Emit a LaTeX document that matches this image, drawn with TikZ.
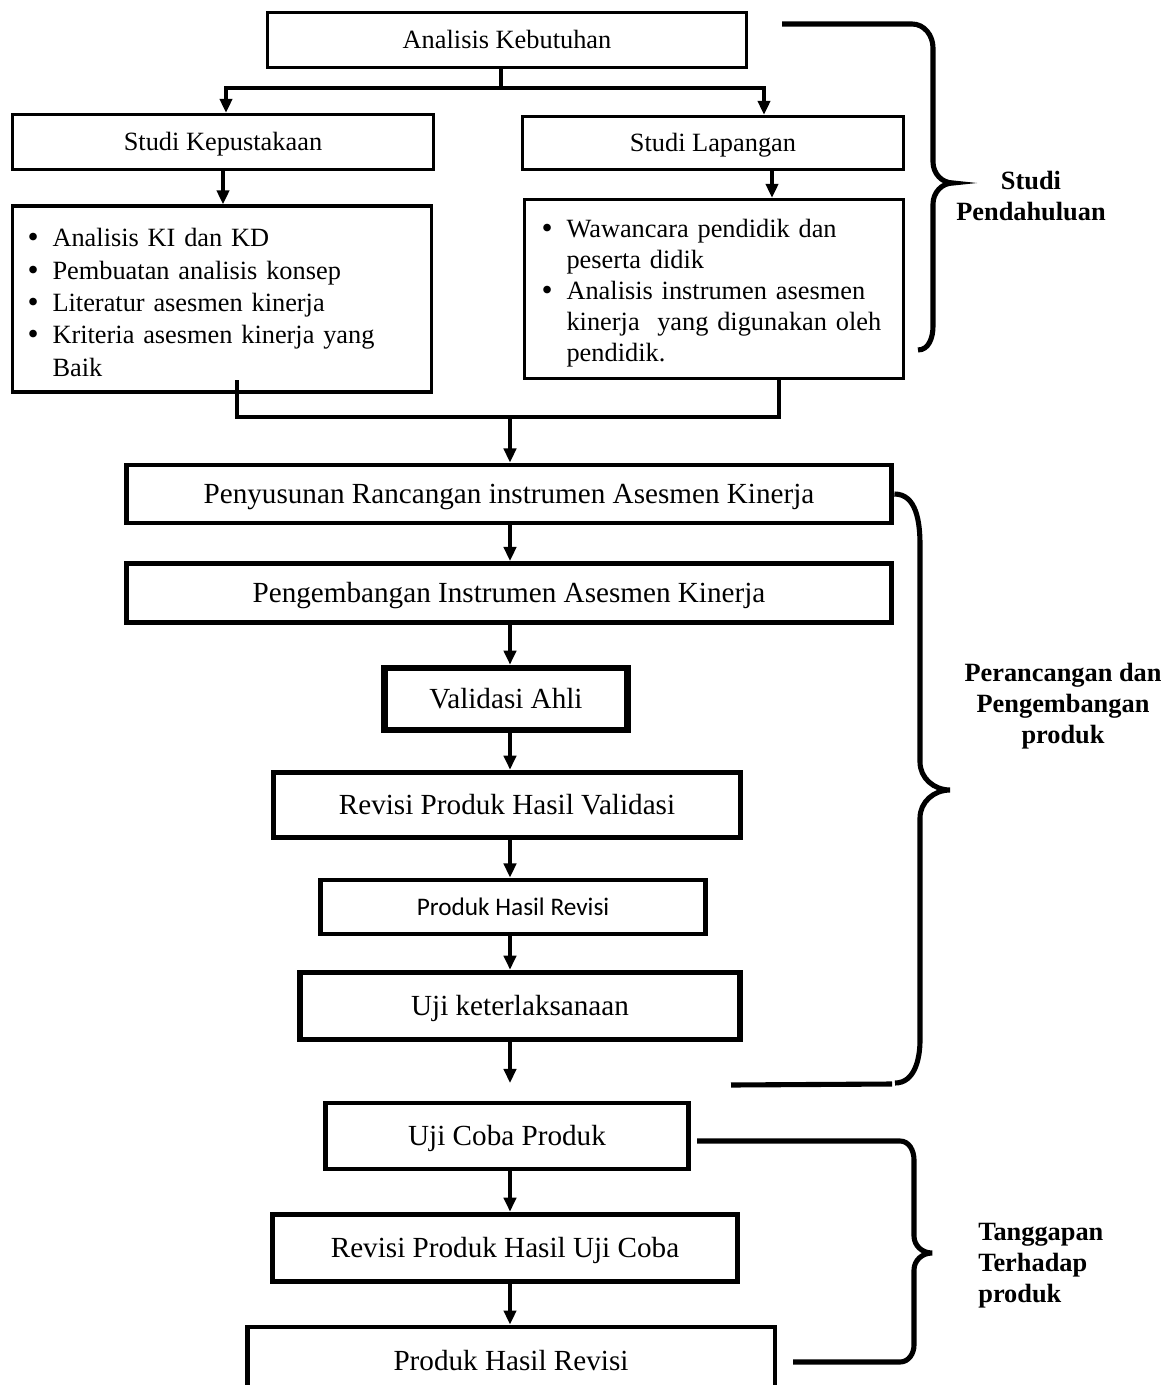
\documentclass[tikz,border=0pt]{standalone}
\usepackage{fontspec}
\setmainfont{Liberation Serif}
\newfontfamily\calibrifont{Carlito}
\usepackage{tikz}
\usetikzlibrary{arrows.meta}

\newcommand{\itemdot}{\makebox[0.5cm][l]{\raisebox{-0.6pt}{\fontsize{18}{18}\selectfont\textbullet}}}

\begin{document}
\begin{tikzpicture}[
x=0.02cm, y=-0.02cm,
box/.style={draw, align=center, inner sep=0pt},
thinbox/.style={box, line width=1.9pt, font=\fontsize{15}{18}\selectfont, text height=10.2pt, text depth=0pt},
midbox/.style={box, line width=2.8pt, font=\fontsize{16.6}{19}\selectfont, text height=11.3pt, text depth=0pt},
heavybox/.style={midbox, line width=3.2pt},
listbox/.style={draw, line width=1.9pt, align=left, inner ysep=0pt},
arrow/.style={-{Triangle[length=8pt,width=7pt]}, line width=1.9pt},
link/.style={line width=1.9pt},
brace/.style={line width=2.9pt},
grouplabel/.style={font=\fontsize{15}{17.6}\selectfont\bfseries, align=center, inner sep=0pt}
]
\useasboundingbox (0,0) rectangle (1167,1385);

% studi pendahuluan
\node[thinbox, minimum width=9.58cm, minimum height=1.1cm] (ak) at (507,40) {Analisis Kebutuhan};
\node[thinbox, minimum width=8.42cm, minimum height=1.1cm] (kep) at (223,142) {Studi Kepustakaan};
\node[thinbox, minimum width=7.62cm, minimum height=1.06cm] (lap) at (713,143) {Studi Lapangan};
\node[listbox, text width=7.78cm, inner xsep=0.3cm, minimum height=3.72cm, font=\fontsize{15}{18.4}\selectfont] (kepList) at (222,299) {%
\raisebox{-3.4pt}[\height][\depth]{\begin{tabular}{@{}l@{}l@{}}
\itemdot & Analisis KI dan KD\\
\itemdot & Pembuatan analisis konsep\\
\itemdot & Literatur asesmen kinerja\\
\itemdot & Kriteria asesmen kinerja yang\\
 & Baik
\end{tabular}}};
\node[listbox, text width=6.9cm, inner xsep=0.34cm, minimum height=3.58cm, font=\fontsize{15}{17.6}\selectfont] (lapList) at (714,289) {%
\raisebox{-2.6pt}[\height][\depth]{\begin{tabular}{@{}l@{}l@{}}
\itemdot & Wawancara pendidik dan\\
 & peserta didik\\
\itemdot & Analisis instrumen asesmen\\
 & kinerja\ \ yang digunakan oleh\\
 & pendidik.
\end{tabular}}};

% perancangan dan pengembangan
\node[midbox, minimum width=15.32cm, minimum height=1.16cm] (rancang) at (509,494) {Penyusunan Rancangan instrumen Asesmen Kinerja};
\node[midbox, minimum width=15.32cm, minimum height=1.18cm] (kembang) at (509,593) {Pengembangan Instrumen Asesmen Kinerja};
\node[midbox, line width=3.8pt, minimum width=4.86cm, minimum height=1.24cm] (validasi) at (506,699) {Validasi Ahli};
\node[heavybox, minimum width=9.34cm, minimum height=1.3cm] (revValid) at (507,805) {Revisi Produk Hasil Validasi};
\node[box, line width=2.8pt, font=\fontsize{14.4}{17}\calibrifont, text height=9.8pt, text depth=0pt, minimum width=7.7cm, minimum height=1.08cm] (produkRev) at (513,907) {Produk Hasil Revisi};
\node[heavybox, minimum width=8.8cm, minimum height=1.34cm] (ujiLaks) at (520,1006) {Uji keterlaksanaan};

% tanggapan
\node[midbox, minimum width=7.26cm, minimum height=1.32cm] (ujiCoba) at (507,1136) {Uji Coba Produk};
\node[heavybox, minimum width=9.3cm, minimum height=1.34cm] (revUji) at (505,1248) {Revisi Produk Hasil Uji Coba};
\node[midbox, minimum width=10.56cm, minimum height=1.36cm] (produkAkhir) at (511,1361) {Produk Hasil Revisi};

\node[grouplabel] (lblStudi) at (1031,196) {Studi\\Pendahuluan};
\node[grouplabel] (lblRancang) at (1063,706) {Perancangan dan\\Pengembangan\\produk};
\node[grouplabel, align=left, anchor=west] (lblTanggap) at (978,1266) {Tanggapan\\Terhadap\\produk};

\coordinate (split) at (501,88);
\coordinate (kepIn) at (226,88);
\coordinate (lapIn) at (764,88);
\coordinate (lapOut) at (772,170);
\coordinate (mergeL) at (237,380);
\coordinate (mergeR) at (779,417);
\coordinate (trunk) at (510,417);
\coordinate (laksEnd) at (510,1083);

\draw[arrow] (ak.south -| split) -- (split) -- (kepIn) -- (kepIn |- kep.north);
\draw[arrow] (split) -- (lapIn) -- (lapIn |- lap.north);
\draw[arrow] (kep.south) -- (kep.south |- kepList.north);
\draw[arrow] (lap.south -| lapOut) -- (lapOut |- lapList.north);
\draw[link] (mergeL) -- (mergeL |- mergeR) -- (mergeR) -- (mergeR |- lapList.south);
\draw[arrow] (trunk) -- (trunk |- rancang.north);
\draw[arrow] (rancang.south -| trunk) -- (kembang.north -| trunk);
\draw[arrow] (kembang.south -| trunk) -- (validasi.north -| trunk);
\draw[arrow] (validasi.south -| trunk) -- (revValid.north -| trunk);
\draw[arrow] (revValid.south -| trunk) -- (produkRev.north -| trunk);
\draw[arrow] (produkRev.south -| trunk) -- (ujiLaks.north -| trunk);
\draw[arrow] (ujiLaks.south -| trunk) -- (laksEnd);
\draw[arrow] (ujiCoba.south -| trunk) -- (revUji.north -| trunk);
\draw[arrow] (revUji.south -| trunk) -- (produkAkhir.north -| trunk);

% kurung kurawal
\draw[brace] (782,24) -- (912,24) to[out=0,in=90] (933,48) -- (933,162) to[out=270,in=180] (953,183) to[out=180,in=90] (933,204) -- (933,326) to[out=270,in=0] (918,350);
\draw[brace] (rancang.east) to[out=0,in=90] (920,545) -- (920,762) to[out=270,in=180] (950,790) to[out=180,in=90] (920,818) -- (920,1040) to[out=270,in=0] (895,1083);
\draw[brace] (731,1085) -- (892,1084);
\draw[brace] (697,1141) -- (900,1141) to[out=0,in=90] (914,1160) -- (914,1236) to[out=270,in=180] (932,1253) to[out=180,in=90] (914,1270) -- (914,1345) to[out=270,in=0] (900,1362) -- (793,1362);
\end{tikzpicture}
\end{document}
